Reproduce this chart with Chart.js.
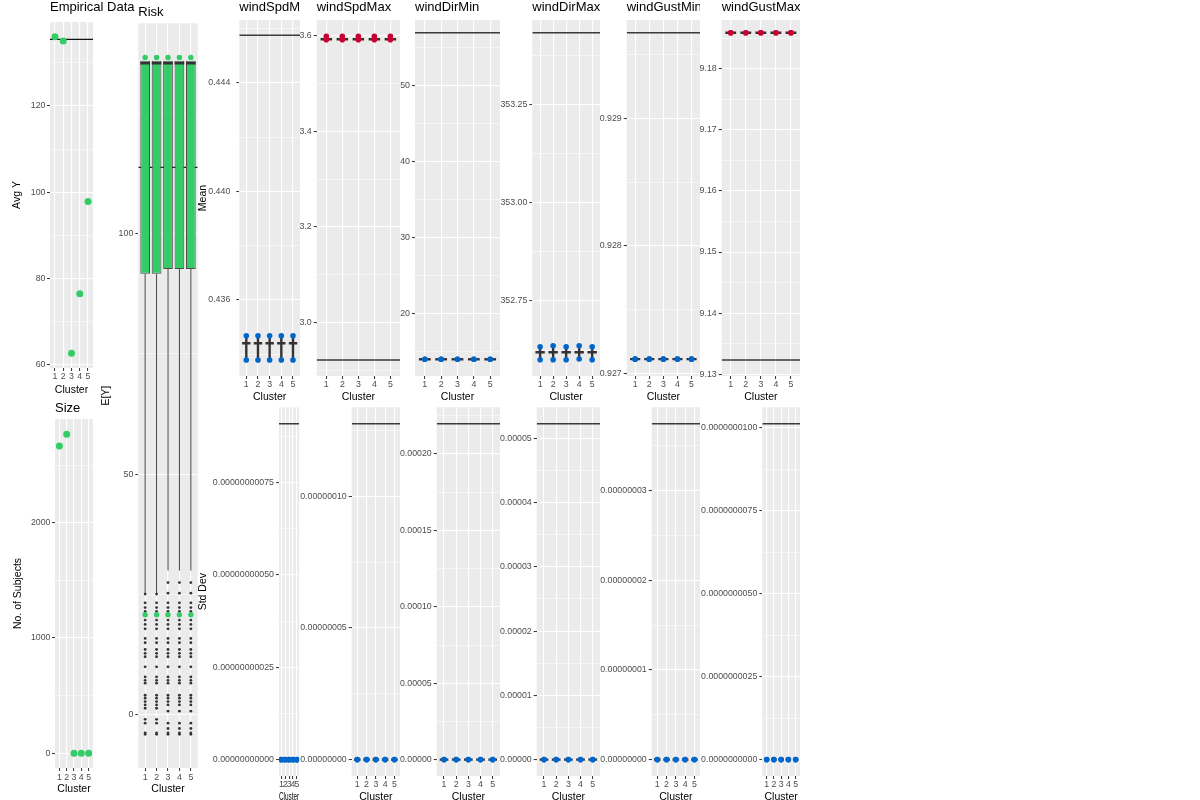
<!DOCTYPE html>
<html><head><meta charset="utf-8">
<script src="https://cdn.jsdelivr.net/npm/chart.js@4.4.0/dist/chart.umd.min.js"></script>
<style>
html,body{margin:0;padding:0;background:#fff;overflow:hidden}
#wrap{position:relative;width:1200px;height:800px;overflow:hidden;background:#fff}
canvas{position:absolute}
</style></head><body><div id="wrap"></div>
<script>
// ---------------- DATA ----------------
const clusters = ["1", "2", "3", "4", "5"];

// Empirical Data
const empiricalAvgY = [136.05, 135.06, 62.7, 76.5, 97.9];
const empiricalRef = 135.45;
const empiricalTicks = [60, 80, 100, 120];
const empiricalTickLabels = ["60", "80", "100", "120"];
const empiricalMinor = [70, 90, 110, 130];

// Size
const sizeSubjects = [2665, 2767, 0, 0, 0];
const sizeTicks = [0, 1000, 2000];
const sizeTickLabels = ["0", "1000", "2000"];
const sizeMinor = [500, 1500, 2500];

// Risk (E[Y] boxplots)
const riskQ1 = [91.6, 91.6, 92.6, 92.6, 92.6];
const riskMedian = [135.3, 135.3, 135.3, 135.3, 135.3];
const riskQ3 = [135.8, 135.8, 135.8, 135.8, 135.8];
const riskWhiskerLow = [25.1, 25.1, 30.0, 30.0, 30.0];
const riskGreenHigh = [136.5, 136.5, 136.5, 136.5, 136.5];
const riskGreenLow = [20.8, 20.8, 20.8, 20.8, 20.8];
const riskRef = 113.7;
const riskOutliersA = [25.1, 23.3, 22.3, 21.5, 19.7, 18.8, 17.9, 15.9, 15.0, 13.6, 12.8, 12.1, 10.0, 7.9, 7.2, 6.6, 4.1, 3.5, 2.8, 2.1, 1.4, -0.9, -1.7, -3.7, -4.0];
const riskOutliersB = [27.5, 25.3, 23.3, 22.3, 21.5, 19.7, 18.8, 17.9, 15.9, 15.0, 13.6, 12.8, 12.1, 10.0, 7.9, 7.2, 6.6, 4.1, 3.5, 2.8, 2.1, 0.8, -1.7, -2.8, -3.7, -4.0];
const riskOutliers = [riskOutliersA, riskOutliersA, riskOutliersB, riskOutliersB, riskOutliersB];
const riskTicks = [0, 50, 100];
const riskTickLabels = ["0", "50", "100"];
const riskMinor = [25, 75, 125];

// Means
const windSpdMeanLow  = [0.433791, 0.433791, 0.433791, 0.433791, 0.433791];
const windSpdMeanMid  = [0.434406, 0.434406, 0.434406, 0.434406, 0.434406];
const windSpdMeanHigh = [0.434686, 0.434686, 0.434686, 0.434686, 0.434686];
const windSpdMeanRef = 0.445745;
const windSpdMeanTicks = [0.436, 0.440, 0.444];
const windSpdMeanTickLabels = ["0.436", "0.440", "0.444"];
const windSpdMeanMinor = [0.434, 0.438, 0.442, 0.446];

const windSpdMaxLow  = [3.5916, 3.5916, 3.5916, 3.5916, 3.5916];
const windSpdMaxMid  = [3.5925, 3.5925, 3.5925, 3.5925, 3.5925];
const windSpdMaxHigh = [3.5987, 3.5987, 3.5987, 3.5987, 3.5987];
const windSpdMaxRef = 2.922;
const windSpdMaxTicks = [3.0, 3.2, 3.4, 3.6];
const windSpdMaxTickLabels = ["3.0", "3.2", "3.4", "3.6"];
const windSpdMaxMinor = [2.9, 3.1, 3.3, 3.5];

const windDirMinLow  = [14.04, 14.04, 14.04, 14.04, 14.04];
const windDirMinMid  = [14.04, 14.04, 14.04, 14.04, 14.04];
const windDirMinHigh = [14.04, 14.04, 14.04, 14.04, 14.04];
const windDirMinRef = 57.01;
const windDirMinTicks = [20, 30, 40, 50];
const windDirMinTickLabels = ["20", "30", "40", "50"];
const windDirMinMinor = [15, 25, 35, 45, 55];

const windDirMaxLow  = [352.6008, 352.6008, 352.6008, 352.6026, 352.6008];
const windDirMaxMid  = [352.6196, 352.6196, 352.6196, 352.6196, 352.6196];
const windDirMaxHigh = [352.6338, 352.6364, 352.6338, 352.6364, 352.6338];
const windDirMaxRef = 353.432;
const windDirMaxTicks = [352.75, 353.0, 353.25];
const windDirMaxTickLabels = ["352.75", "353.00", "353.25"];
const windDirMaxMinor = [352.625, 352.875, 353.125, 353.375];

const windGustMinLow  = [0.927112, 0.927112, 0.927112, 0.927112, 0.927112];
const windGustMinMid  = [0.927112, 0.927112, 0.927112, 0.927112, 0.927112];
const windGustMinHigh = [0.927112, 0.927112, 0.927112, 0.927112, 0.927112];
const windGustMinRef = 0.929671;
const windGustMinTicks = [0.927, 0.928, 0.929];
const windGustMinTickLabels = ["0.927", "0.928", "0.929"];
const windGustMinMinor = [0.9275, 0.9285, 0.9295];

const windGustMaxLow  = [9.18589, 9.18589, 9.18589, 9.18589, 9.18589];
const windGustMaxMid  = [9.18589, 9.18589, 9.18589, 9.18589, 9.18589];
const windGustMaxHigh = [9.18589, 9.18589, 9.18589, 9.18589, 9.18589];
const windGustMaxRef = 9.13234;
const windGustMaxTicks = [9.13, 9.14, 9.15, 9.16, 9.17, 9.18];
const windGustMaxTickLabels = ["9.13", "9.14", "9.15", "9.16", "9.17", "9.18"];
const windGustMaxMinor = [9.135, 9.145, 9.155, 9.165, 9.175, 9.185];

// Std Devs
const sdWindSpdMean = [0, 0, 0, 0, 0];
const sdWindSpdMeanRef = 9.092e-10;
const sdWindSpdMeanTicks = [0, 2.5e-10, 5e-10, 7.5e-10];
const sdWindSpdMeanTickLabels = ["0.00000000000", "0.00000000025", "0.00000000050", "0.00000000075"];
const sdWindSpdMeanMinor = [1.25e-10, 3.75e-10, 6.25e-10, 8.75e-10];

const sdWindSpdMax = [0, 0, 0, 0, 0];
const sdWindSpdMaxRef = 1.2755e-7;
const sdWindSpdMaxTicks = [0, 5e-8, 1e-7];
const sdWindSpdMaxTickLabels = ["0.00000000", "0.00000005", "0.00000010"];
const sdWindSpdMaxMinor = [2.5e-8, 7.5e-8, 1.25e-7];

const sdWindDirMin = [0, 0, 0, 0, 0];
const sdWindDirMinRef = 2.199e-4;
const sdWindDirMinTicks = [0, 5e-5, 1e-4, 1.5e-4, 2e-4];
const sdWindDirMinTickLabels = ["0.00000", "0.00005", "0.00010", "0.00015", "0.00020"];
const sdWindDirMinMinor = [2.5e-5, 7.5e-5, 1.25e-4, 1.75e-4, 2.25e-4];

const sdWindDirMax = [0, 0, 0, 0, 0];
const sdWindDirMaxRef = 5.229e-5;
const sdWindDirMaxTicks = [0, 1e-5, 2e-5, 3e-5, 4e-5, 5e-5];
const sdWindDirMaxTickLabels = ["0.00000", "0.00001", "0.00002", "0.00003", "0.00004", "0.00005"];
const sdWindDirMaxMinor = [5e-6, 1.5e-5, 2.5e-5, 3.5e-5, 4.5e-5];

const sdWindGustMin = [0, 0, 0, 0, 0];
const sdWindGustMinRef = 3.747e-8;
const sdWindGustMinTicks = [0, 1e-8, 2e-8, 3e-8];
const sdWindGustMinTickLabels = ["0.00000000", "0.00000001", "0.00000002", "0.00000003"];
const sdWindGustMinMinor = [5e-9, 1.5e-8, 2.5e-8, 3.5e-8];

const sdWindGustMax = [0, 0, 0, 0, 0];
const sdWindGustMaxRef = 1.0127e-8;
const sdWindGustMaxTicks = [0, 2.5e-9, 5e-9, 7.5e-9, 1e-8];
const sdWindGustMaxTickLabels = ["0.0000000000", "0.0000000025", "0.0000000050", "0.0000000075", "0.0000000100"];
const sdWindGustMaxMinor = [1.25e-9, 3.75e-9, 6.25e-9, 8.75e-9];

// ---------------- STYLE / HELPERS ----------------
const FONT = "'Liberation Sans', Arial, Helvetica, sans-serif";
const GREEN = '#33CC66', BLUE = '#0066CC', RED = '#CC0033', DARK = '#333333';
Chart.defaults.font.family = FONT;
Chart.defaults.animation = false;

const panelBg = {
  id: 'panelBg',
  beforeDraw(chart) {
    const {ctx, chartArea: a} = chart;
    ctx.save(); ctx.fillStyle = '#EBEBEB';
    ctx.fillRect(a.left, a.top, a.right - a.left, a.bottom - a.top);
    ctx.restore();
  }
};
const panelTitle = {
  id: 'panelTitle',
  defaults: {text: '', y: 0},
  afterDraw(chart, args, opts) {
    if (!opts.text) return;
    const ctx = chart.ctx;
    ctx.save(); ctx.font = '13px ' + FONT; ctx.fillStyle = '#000';
    ctx.textBaseline = 'middle'; ctx.textAlign = 'left';
    ctx.fillText(opts.text, chart.chartArea.left, opts.y);
    ctx.restore();
  }
};
Chart.register(panelBg, panelTitle);

const pts = arr => arr.map((v, i) => ({x: i + 1, y: v}));
const spacingFrac = f => ctx => {
  const s = ctx.chart.scales.x;
  return f * Math.abs(s.getPixelForValue(2) - s.getPixelForValue(1));
};
function hline(v, color, width, order) {
  return {type: 'line', data: [{x: 0.4, y: v}, {x: 5.6, y: v}], borderColor: color, borderWidth: width, pointRadius: 0, showLine: true, order};
}
function segs(lo, hi, color, width, order) {
  const d = [];
  lo.forEach((v, i) => { d.push({x: i + 1, y: v}, {x: i + 1, y: hi[i]}, {x: i + 1, y: null}); });
  return {type: 'line', data: d, borderColor: color, borderWidth: width, pointRadius: 0, spanGaps: false, showLine: true, order};
}
function crossMarks(arr, color, width, frac, order) {
  return {type: 'scatter', data: pts(arr), pointStyle: 'line', pointBorderColor: color, pointBackgroundColor: color,
    pointBorderWidth: width, pointRadius: spacingFrac(frac), order};
}
function dots(arr, color, r, order) {
  return {type: 'scatter', data: pts(arr), pointStyle: 'circle', pointBackgroundColor: color, pointBorderColor: color,
    pointBorderWidth: 0, pointRadius: r, order};
}
function meanDatasets(low, mid, high, ref, dotColor) {
  return [
    hline(ref, '#3a3a3a', 1.5, 20),
    segs(low, high, DARK, 2.4, 19),
    crossMarks(mid, DARK, 2.4, 0.36, 18),
    dots(low, dotColor, 2.8, 17),
    dots(high, dotColor, 2.8, 16)
  ];
}

const wrap = document.getElementById('wrap');
function panel(o) {
  const c = document.createElement('canvas');
  c.width = o.w; c.height = o.h;
  c.style.left = o.x + 'px'; c.style.top = o.y + 'px';
  c.style.width = o.w + 'px'; c.style.height = o.h + 'px';
  wrap.appendChild(c);
  const yW = o.pl - o.x, xH = o.y + o.h - o.pb;
  const padTop = o.pt - o.y, padRight = o.x + o.w - o.pr;
  const allY = o.majors.concat(o.minors).sort((a, b) => a - b);
  const isMajor = v => o.majors.indexOf(v) >= 0;
  return new Chart(c, {
    type: 'scatter',
    data: {datasets: o.datasets},
    options: {
      responsive: false, animation: false, devicePixelRatio: 1, events: [],
      layout: {padding: {top: padTop, right: padRight, bottom: 0, left: 0}, autoPadding: false},
      plugins: {legend: {display: false}, tooltip: {enabled: false}, title: {display: false},
        panelTitle: {text: o.title || '', y: o.titleY - o.y}},
      scales: {
        x: {
          type: 'linear', min: 0.4, max: 5.6, offset: false, bounds: 'data',
          afterFit: sc => { sc.height = xH; },
          afterBuildTicks: sc => { sc.ticks = clusters.map((c, i) => ({value: i + 1})); },
          ticks: {autoSkip: false, maxRotation: 0, minRotation: 0, padding: o.xTickPad, color: '#4D4D4D',
            font: {size: 8.8}, callback: v => clusters[Math.round(v) - 1]},
          grid: {offset: false, color: '#FFFFFF', lineWidth: 1.1, tickLength: 3, tickColor: DARK, tickWidth: 1},
          border: {display: false},
          title: {display: true, text: 'Cluster', color: '#000', font: {size: 10.5}, padding: {top: 0, bottom: o.xTitlePad}}
        },
        y: {
          type: 'linear', min: o.yMin, max: o.yMax, bounds: 'data', beginAtZero: false,
          afterFit: sc => { sc.width = yW; },
          afterBuildTicks: sc => { sc.ticks = allY.map(v => ({value: v})); },
          ticks: {autoSkip: false, padding: o.yTickPad || 2, color: '#4D4D4D', font: {size: 8.8},
            callback: v => { const i = o.majors.indexOf(v); return i >= 0 ? o.labels[i] : ''; }},
          grid: {color: '#FFFFFF', tickLength: 3, tickWidth: 1,
            lineWidth: ctx => (ctx.tick && isMajor(ctx.tick.value)) ? 1.1 : 0.55,
            tickColor: ctx => (ctx.tick && isMajor(ctx.tick.value)) ? DARK : 'rgba(0,0,0,0)'},
          border: {display: false},
          title: o.yTitle ? {display: true, text: o.yTitle, color: '#000', font: {size: 10.5}, padding: {top: o.yTitlePad, bottom: 0}} : {display: false}
        }
      }
    }
  });
}

// ---------------- PANELS ----------------
// Risk (drawn first, underneath)
const riskOutlierPts = [];
riskOutliers.forEach((list, i) => list.forEach(v => riskOutlierPts.push({x: i + 1, y: v})));
panel({x: 100, y: 0, w: 100, h: 800, pl: 138.3, pt: 23.3, pr: 197.7, pb: 768,
  yMin: -11.0, yMax: 143.6, majors: riskTicks, labels: riskTickLabels, minors: riskMinor,
  title: 'Risk', titleY: 12, yTitle: 'E[Y]', yTitlePad: 0, xTickPad: 1.4, xTitlePad: 4.4,
  datasets: [
    hline(riskRef, '#222222', 1.2, 30),
    segs(riskWhiskerLow, riskQ1, '#444444', 1, 29),
    {type: 'bar', data: riskQ1.map((q, i) => ({x: i + 1, y: [q, riskQ3[i]]})), backgroundColor: GREEN,
      borderColor: '#4d4d4d', borderWidth: 1, borderSkipped: false, barPercentage: 0.85, categoryPercentage: 1, order: 28},
    crossMarks(riskMedian, DARK, 2.4, 0.42, 27),
    {type: 'scatter', data: riskOutlierPts, pointStyle: 'circle', pointRadius: 1.4, pointBackgroundColor: DARK, pointBorderWidth: 0, order: 26},
    dots(riskGreenHigh, GREEN, 2.7, 25),
    dots(riskGreenLow, GREEN, 2.7, 24)
  ]});

// Empirical Data
panel({x: 0, y: 0, w: 140, h: 400, pl: 50, pt: 22, pr: 93, pb: 368,
  yMin: 59.3, yMax: 139.46, majors: empiricalTicks, labels: empiricalTickLabels, minors: empiricalMinor,
  title: 'Empirical Data', titleY: 7.5, yTitle: 'Avg Y', yTitlePad: 11.2, xTickPad: 0.4, xTitlePad: 3.7, yTickPad: 1.5,
  datasets: [hline(empiricalRef, '#111111', 1.3, 20), dots(empiricalAvgY, GREEN, 3.5, 10)]});

// Size
panel({x: 0, y: 400, w: 100, h: 400, pl: 55, pt: 419, pr: 93, pb: 768,
  yMin: -127.5, yMax: 2899, majors: sizeTicks, labels: sizeTickLabels, minors: sizeMinor,
  title: 'Size', titleY: 408, yTitle: 'No. of Subjects', yTitlePad: 11.7, xTickPad: 1.4, xTitlePad: 4.4, yTickPad: 1.5,
  datasets: [dots(sizeSubjects, GREEN, 3.5, 10)]});

// Top row: Means
const topRow = [
  {x: 195, w: 105, pl: 239.3, yMin: 0.433202, yMax: 0.446308, majors: windSpdMeanTicks, labels: windSpdMeanTickLabels, minors: windSpdMeanMinor,
    title: 'windSpdMean', yTitle: 'Mean', yTitlePad: 2, yTickPad: 6,
    datasets: meanDatasets(windSpdMeanLow, windSpdMeanMid, windSpdMeanHigh, windSpdMeanRef, BLUE)},
  {x: 300, w: 100, pl: 316.7, yMin: 2.88857, yMax: 3.63282, majors: windSpdMaxTicks, labels: windSpdMaxTickLabels, minors: windSpdMaxMinor,
    title: 'windSpdMax', datasets: meanDatasets(windSpdMaxLow, windSpdMaxMid, windSpdMaxHigh, windSpdMaxRef, RED)},
  {x: 400, w: 100, pl: 415, yMin: 11.842, yMax: 58.684, majors: windDirMinTicks, labels: windDirMinTickLabels, minors: windDirMinMinor,
    title: 'windDirMin', datasets: meanDatasets(windDirMinLow, windDirMinMid, windDirMinHigh, windDirMinRef, BLUE)},
  {x: 500, w: 100, pl: 532.3, yMin: 352.5594, yMax: 353.4643, majors: windDirMaxTicks, labels: windDirMaxTickLabels, minors: windDirMaxMinor,
    title: 'windDirMax', datasets: meanDatasets(windDirMaxLow, windDirMaxMid, windDirMaxHigh, windDirMaxRef, BLUE)},
  {x: 600, w: 100, pl: 626.7, yMin: 0.92698, yMax: 0.929771, majors: windGustMinTicks, labels: windGustMinTickLabels, minors: windGustMinMinor,
    title: 'windGustMin', datasets: meanDatasets(windGustMinLow, windGustMinMid, windGustMinHigh, windGustMinRef, BLUE)},
  {x: 700, w: 100, pl: 721.7, yMin: 9.12972, yMax: 9.18797, majors: windGustMaxTicks, labels: windGustMaxTickLabels, minors: windGustMaxMinor,
    title: 'windGustMax', datasets: meanDatasets(windGustMaxLow, windGustMaxMid, windGustMaxHigh, windGustMaxRef, RED)}
];
topRow.forEach(p => panel(Object.assign({y: 0, h: 405, pt: 20, pb: 376, pr: p.x + p.w, titleY: 7, xTickPad: 0.7, xTitlePad: 2}, p)));

// Bottom row: Std Devs
const bottomRow = [
  {x: 195, w: 105, pl: 279, yMin: -4.43e-11, yMax: 9.535e-10, majors: sdWindSpdMeanTicks, labels: sdWindSpdMeanTickLabels, minors: sdWindSpdMeanMinor,
    yTitle: 'Std Dev', yTitlePad: 2, datasets: meanDatasets(sdWindSpdMean, sdWindSpdMean, sdWindSpdMean, sdWindSpdMeanRef, BLUE)},
  {x: 300, w: 100, pl: 351.7, yMin: -6.22e-9, yMax: 1.3377e-7, majors: sdWindSpdMaxTicks, labels: sdWindSpdMaxTickLabels, minors: sdWindSpdMaxMinor,
    datasets: meanDatasets(sdWindSpdMax, sdWindSpdMax, sdWindSpdMax, sdWindSpdMaxRef, BLUE)},
  {x: 400, w: 100, pl: 436.7, yMin: -1.072e-5, yMax: 2.306e-4, majors: sdWindDirMinTicks, labels: sdWindDirMinTickLabels, minors: sdWindDirMinMinor,
    datasets: meanDatasets(sdWindDirMin, sdWindDirMin, sdWindDirMin, sdWindDirMinRef, BLUE)},
  {x: 500, w: 100, pl: 536.7, yMin: -2.549e-6, yMax: 5.484e-5, majors: sdWindDirMaxTicks, labels: sdWindDirMaxTickLabels, minors: sdWindDirMaxMinor,
    datasets: meanDatasets(sdWindDirMax, sdWindDirMax, sdWindDirMax, sdWindDirMaxRef, BLUE)},
  {x: 600, w: 100, pl: 651.7, yMin: -1.827e-9, yMax: 3.93e-8, majors: sdWindGustMinTicks, labels: sdWindGustMinTickLabels, minors: sdWindGustMinMinor,
    datasets: meanDatasets(sdWindGustMin, sdWindGustMin, sdWindGustMin, sdWindGustMinRef, BLUE)},
  {x: 700, w: 100, pl: 762.3, yMin: -4.94e-10, yMax: 1.0621e-8, majors: sdWindGustMaxTicks, labels: sdWindGustMaxTickLabels, minors: sdWindGustMaxMinor,
    datasets: meanDatasets(sdWindGustMax, sdWindGustMax, sdWindGustMax, sdWindGustMaxRef, BLUE)}
];
bottomRow.forEach(p => panel(Object.assign({y: 400, h: 405, pt: 400, pb: 776, pr: p.x + p.w, titleY: 0, xTickPad: 0.7, xTitlePad: 2}, p)));
</script></body></html>
